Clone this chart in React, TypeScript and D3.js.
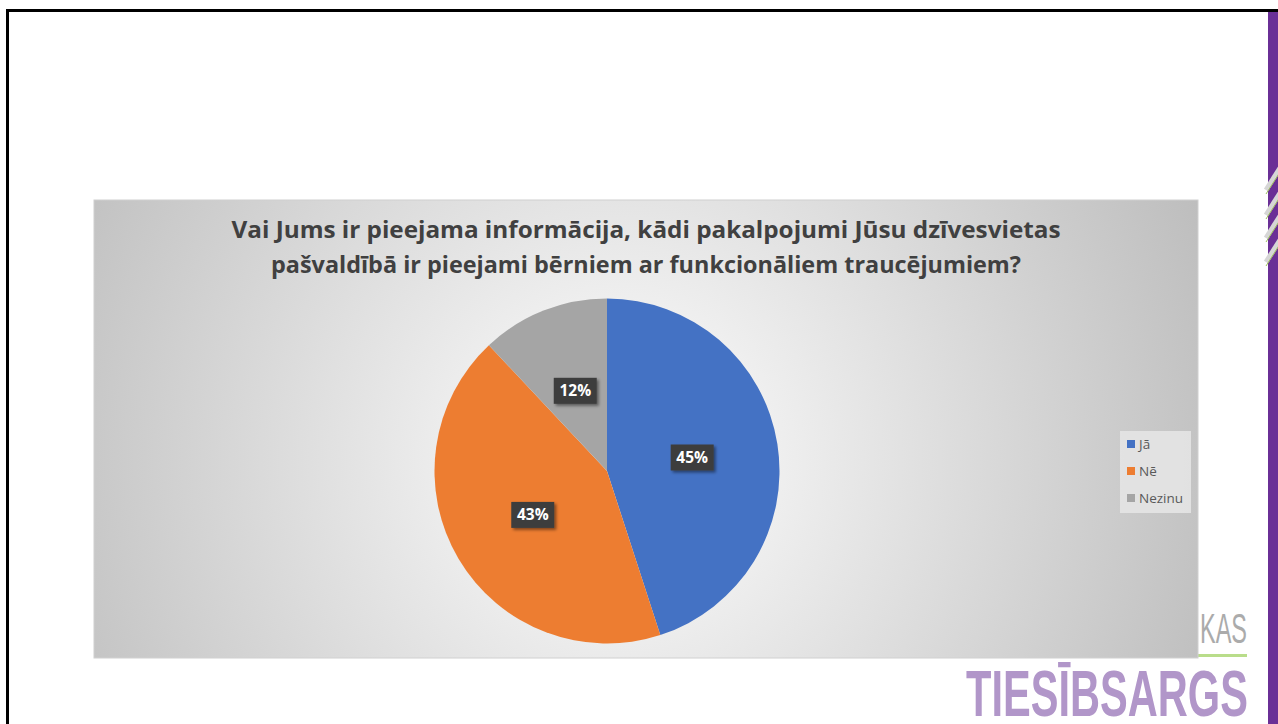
import { useEffect, useRef } from 'react';
import * as d3 from 'd3';

const categories = ['Jā', 'Nē', 'Nezinu'];
const values = [45, 43, 12];
const colors = ['#4472C4', '#ED7D31', '#A5A5A5'];
const titleLines = [
  'Vai Jums ir pieejama informācija, kādi pakalpojumi Jūsu dzīvesvietas',
  'pašvaldībā ir pieejami bērniem ar funkcionāliem traucējumiem?',
];
const titleWidths = [829, 750];

const W = 1278;
const H = 724;

// squeeze a text horizontally to a given width with a transform
const fitText = (sel: any, x: number, y: number, width: number, anchorEnd = false) => {
  const node = sel.node() as SVGTextElement;
  const natural = node.getComputedTextLength() || width;
  const k = width / natural;
  sel.attr('x', 0).attr('y', 0)
    .attr('transform', `translate(${anchorEnd ? x - width : x},${y}) scale(${k},1)`);
};

const App = () => {
  const svgRef = useRef<SVGSVGElement>(null);

  useEffect(() => {
    const svg = d3.select(svgRef.current);
    svg.selectAll('*').remove();
    svg.attr('width', W).attr('height', H);

    const defs = svg.append('defs');
    const bg = defs.append('radialGradient')
      .attr('id', 'chart-bg')
      .attr('gradientUnits', 'userSpaceOnUse')
      .attr('cx', 620).attr('cy', 460).attr('r', 640);
    bg.append('stop').attr('offset', '0%').attr('stop-color', '#ffffff');
    bg.append('stop').attr('offset', '100%').attr('stop-color', '#bdbdbd');

    const shadow = defs.append('filter').attr('id', 'lbl-shadow')
      .attr('x', '-20%').attr('y', '-20%').attr('width', '150%').attr('height', '160%');
    shadow.append('feDropShadow')
      .attr('dx', 2).attr('dy', 2).attr('stdDeviation', 1.5)
      .attr('flood-color', '#000').attr('flood-opacity', 0.45);

    // slide frame
    svg.append('rect').attr('width', W).attr('height', H).attr('fill', '#ffffff');
    svg.append('rect').attr('x', 6).attr('y', 9).attr('width', W - 6).attr('height', 3).attr('fill', '#000');
    svg.append('rect').attr('x', 6).attr('y', 9).attr('width', 3).attr('height', H - 9).attr('fill', '#000');
    svg.append('rect').attr('x', 1268).attr('y', 12).attr('width', 10).attr('height', H - 12).attr('fill', '#6a2f96');
    [168, 193, 216, 240].forEach(y => {
      svg.append('line')
        .attr('x1', 1266).attr('y1', y + 22).attr('x2', 1280).attr('y2', y)
        .attr('stroke', '#d6d6d6').attr('stroke-width', 5);
      svg.append('line')
        .attr('x1', 1266).attr('y1', y + 26).attr('x2', 1280).attr('y2', y + 4)
        .attr('stroke', '#9cbf5a').attr('stroke-width', 1);
    });

    // logo (partly behind chart)
    const kas = svg.append('text')
      .attr('font-family', 'Liberation Sans Narrow, Liberation Sans, sans-serif')
      .attr('font-size', 42)
      .attr('fill', '#ababab')
      .text('KAS');
    fitText(kas, 1247, 643, 47, true);
    svg.append('rect').attr('x', 1150).attr('y', 654).attr('width', 97).attr('height', 3).attr('fill', '#b9dd8a');
    const brand = svg.append('text')
      .attr('font-family', 'Liberation Sans Narrow, Liberation Sans, sans-serif')
      .attr('font-weight', 'bold')
      .attr('font-size', 64)
      .attr('fill', '#b196c9')
      .text('TIESĪBSARGS');
    fitText(brand, 966, 716, 282);

    // chart area
    svg.append('rect')
      .attr('x', 94).attr('y', 200).attr('width', 1104).attr('height', 458)
      .attr('fill', 'url(#chart-bg)')
      .attr('stroke', '#d0d0d0').attr('stroke-width', 1);

    svg.append('g').selectAll('text')
      .data(titleLines)
      .enter().append('text')
      .attr('x', 646)
      .attr('y', (d, i) => 238 + i * 35)
      .attr('text-anchor', 'middle')
      .attr('font-family', 'Open Sans, sans-serif')
      .attr('font-weight', 'bold')
      .attr('font-size', 24)
      .attr('fill', '#404040')
      .attr('textLength', (d, i) => titleWidths[i])
      .attr('lengthAdjust', 'spacingAndGlyphs')
      .text(d => d);

    // pie
    const cx = 607;
    const cy = 471;
    const radius = 172.5;
    const data = categories.map((c, i) => ({ cat: c, value: values[i], color: colors[i] }));
    const pie = d3.pie<any>().sort(null).value(d => d.value);
    const arcs = pie(data);
    const arc = d3.arc<any>().innerRadius(0).outerRadius(radius);
    const labelArc = d3.arc<any>().innerRadius(radius * 0.5).outerRadius(radius * 0.5);
    const total = d3.sum(values);

    const g = svg.append('g').attr('transform', `translate(${cx},${cy})`);
    g.selectAll('path')
      .data(arcs)
      .enter().append('path')
      .attr('d', arc)
      .attr('fill', d => d.data.color);

    const lbl = g.selectAll('.lbl')
      .data(arcs)
      .enter().append('g')
      .attr('class', 'lbl')
      .attr('transform', d => {
        const [x, y] = labelArc.centroid(d);
        return `translate(${x},${y})`;
      });
    lbl.append('rect')
      .attr('x', -21.5).attr('y', -13).attr('width', 43).attr('height', 26)
      .attr('fill', '#3d3d3d')
      .attr('filter', 'url(#lbl-shadow)');
    lbl.append('text')
      .attr('text-anchor', 'middle')
      .attr('dy', '0.36em')
      .attr('font-family', 'Open Sans, sans-serif')
      .attr('font-weight', 'bold')
      .attr('font-size', 15.5)
      .attr('fill', '#ffffff')
      .text(d => `${Math.round((d.data.value / total) * 100)}%`);

    // legend
    const legend = svg.append('g').attr('transform', 'translate(1120,431)');
    legend.append('rect')
      .attr('width', 71).attr('height', 82)
      .attr('fill', '#e6e6e6').attr('opacity', 0.85);
    const item = legend.selectAll('.item')
      .data(data)
      .enter().append('g')
      .attr('class', 'item')
      .attr('transform', (d, i) => `translate(7,${13 + i * 27})`);
    item.append('rect')
      .attr('y', -4).attr('width', 8).attr('height', 8)
      .attr('fill', d => d.color);
    item.append('text')
      .attr('x', 12).attr('dy', '0.36em')
      .attr('font-family', 'Open Sans, sans-serif')
      .attr('font-size', 13.5)
      .attr('fill', '#595959')
      .text(d => d.cat);
  }, []);

  return (
    <div style={{ position: 'absolute', left: 0, top: 0 }}>
      <svg ref={svgRef} style={{ display: 'block' }}></svg>
    </div>
  );
};

export default App;
